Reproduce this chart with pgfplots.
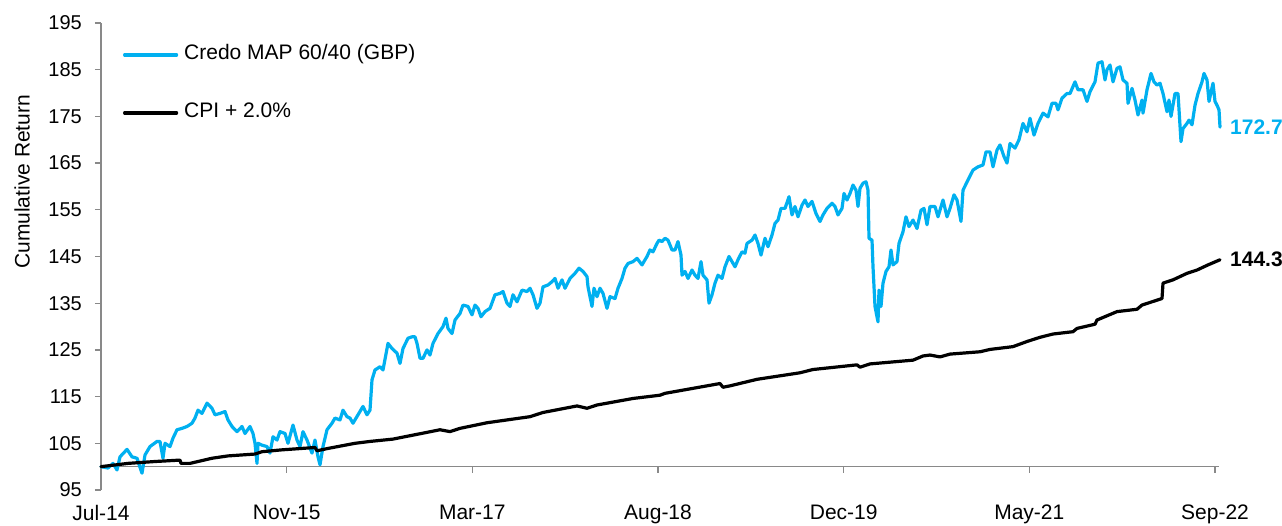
\documentclass[border=0pt]{standalone}
\usepackage{fontspec}
\setmainfont{Liberation Sans}
\usepackage{pgfplots}
\pgfplotsset{compat=1.18}
\usepackage{pgfplotstable}
\definecolor{credo}{RGB}{0,176,240}
\definecolor{axgray}{RGB}{137,137,137}

% x = position on the time axis (Jul-14 = 101, Sep-22 = 1215, equal spacing between labels)
\pgfplotstableread{
x y
101 100.0
108 99.7
113 100.7
117 99.3
120 102.1
127 103.7
132 102.1
137 101.8
142 98.6
145 102.5
150 104.3
157 105.4
160 105.4
163 101.8
165 105.0
170 104.3
173 106.1
177 107.9
182 108.2
187 108.6
192 109.3
195 110.4
198 112.1
202 111.4
207 113.6
212 112.5
215 111.1
220 111.4
225 111.8
228 110.0
232 108.6
237 107.5
242 108.6
245 107.1
250 108.6
253 107.1
255 105.0
257 100.7
258 105.0
262 104.6
267 104.3
270 102.9
273 106.4
277 105.7
280 107.5
285 107.1
288 105.0
293 108.9
297 105.7
300 104.3
303 107.5
307 105.7
312 102.9
315 105.7
318 102.1
320 100.4
323 104.3
327 107.9
332 109.3
335 110.4
340 110.0
343 112.1
347 110.7
350 110.4
353 109.3
358 111.1
363 112.9
367 111.1
370 112.1
372 118.6
375 120.7
380 121.4
383 120.7
388 126.4
392 125.3
397 124.3
400 122.1
403 125.3
408 127.5
412 127.8
415 127.8
417 126.4
420 123.2
423 123.2
427 125.0
430 123.9
433 126.4
438 128.5
443 130.0
446 131.8
448 129.6
452 128.5
455 131.4
460 132.8
463 134.6
468 134.3
472 132.5
475 134.6
478 133.9
481 132.1
485 133.2
490 133.9
495 136.8
500 137.1
503 137.5
507 135.0
510 134.3
513 136.8
517 135.3
522 137.8
527 137.5
530 138.2
533 136.8
537 133.9
540 135.0
543 138.5
548 138.9
552 139.6
555 140.3
558 138.2
562 140.0
565 138.2
570 140.3
575 141.4
579 142.5
583 141.8
587 140.7
588 138.5
592 134.3
594 138.2
597 136.4
600 138.2
603 137.1
607 133.9
610 136.4
615 136.0
618 138.2
622 140.3
625 142.5
628 143.5
633 143.9
637 144.6
642 143.2
647 145.0
650 146.4
653 146.0
657 147.8
659 148.5
662 148.2
665 148.9
668 148.5
672 146.4
675 146.4
678 148.2
681 145.3
682 141.0
685 141.8
688 140.3
692 142.1
695 141.0
698 140.3
701 143.9
703 141.0
707 140.0
709 135.0
712 136.8
715 139.3
718 141.0
722 140.3
725 142.8
729 145.0
732 143.9
735 142.8
738 144.3
742 146.0
745 145.7
747 147.8
752 148.5
755 149.6
758 147.8
761 145.3
765 148.9
768 147.1
772 149.6
775 152.1
778 152.8
781 155.3
785 155.3
789 157.8
792 153.9
795 155.7
798 153.5
802 156.0
805 157.1
808 155.7
812 156.8
816 154.2
820 152.5
823 153.9
827 155.3
832 156.4
835 155.7
838 153.9
842 155.3
844 158.5
847 157.1
850 158.5
853 160.3
856 159.2
858 155.7
860 159.6
863 160.7
866 161.0
868 159.2
869 148.9
872 148.5
873 142.8
875 134.3
877 132.1
878 131.0
879 137.8
881 134.3
883 139.3
886 141.8
889 142.8
891 146.4
893 143.2
897 143.9
899 147.8
903 150.3
906 153.5
909 151.4
913 152.8
917 151.0
921 154.9
924 155.3
927 151.8
930 155.7
935 155.7
938 153.5
943 157.1
947 153.5
950 155.3
954 158.2
957 157.1
961 152.5
963 159.2
968 161.4
973 163.5
978 164.2
983 164.6
986 167.4
990 167.4
993 164.2
997 167.8
1000 168.9
1004 166.4
1007 165.0
1010 169.2
1015 168.2
1019 170.0
1023 173.5
1027 171.7
1030 174.6
1034 171.0
1038 173.5
1043 175.7
1048 174.9
1052 177.8
1056 177.8
1058 176.4
1062 178.9
1067 179.9
1070 179.9
1075 182.4
1078 180.7
1083 180.7
1087 178.2
1090 180.3
1095 182.4
1098 186.4
1102 186.7
1105 182.8
1107 185.0
1110 186.0
1113 182.4
1117 185.3
1120 185.6
1123 182.8
1127 182.1
1128 177.8
1132 181.0
1135 178.5
1138 175.3
1142 178.5
1143 175.7
1147 180.7
1151 184.2
1154 182.4
1157 181.7
1160 182.1
1163 179.9
1167 176.0
1169 178.5
1171 175.0
1175 179.9
1178 179.9
1181 169.6
1183 172.4
1187 173.5
1189 174.2
1192 173.2
1195 177.4
1198 179.9
1202 182.4
1204 184.2
1207 182.8
1209 178.2
1213 182.1
1215 178.2
1217 177.4
1219 176.4
1220 172.7
}\credotable

\pgfplotstableread{
x y
101 100.0
128 100.7
155 101.1
180 101.4
181 100.7
190 100.7
212 101.8
228 102.3
255 102.7
262 103.2
282 103.6
315 104.1
317 103.4
328 103.9
355 105.0
370 105.4
393 105.9
440 107.9
450 107.5
460 108.2
487 109.4
530 110.7
543 111.6
577 113.0
587 112.5
597 113.2
633 114.6
660 115.3
665 115.7
720 117.8
723 117.0
730 117.3
757 118.7
800 120.1
813 120.8
857 121.8
860 121.3
870 122.0
913 122.8
923 123.7
930 123.9
940 123.5
950 124.1
980 124.6
990 125.1
1013 125.7
1027 126.8
1040 127.7
1053 128.4
1073 128.9
1077 129.6
1095 130.5
1097 131.4
1117 133.2
1137 133.7
1142 134.6
1152 135.3
1162 136.0
1163 139.3
1173 140.0
1187 141.4
1197 142.1
1208 143.2
1220 144.3
}\cpitable

\begin{document}
\begin{tikzpicture}
\useasboundingbox (-101pt,-35pt) rectangle (1181pt,490pt);
\begin{axis}[
  at={(0pt,0pt)}, anchor=south west,
  scale only axis, width=1118pt, height=467pt,
  xmin=101, xmax=1219, ymin=95, ymax=195,
  clip=false,
  axis y line*=left, axis x line*=bottom,
  x axis line style={draw=none},
  y axis line style={draw=axgray, line width=1.3pt, -},
  ytick={95,105,...,195},
  xtick={101,286.7,472.3,658,843.7,1029.3,1215},
  xticklabels={Jul-14,Nov-15,Mar-17,Aug-18,Dec-19,May-21,Sep-22},
  xtick style={draw=none},
  ytick style={draw=axgray, line width=1.3pt},
  tick align=outside, major tick length=6pt,
  /pgf/number format/assume math mode=true,
  yticklabel style={font=\fontsize{20}{24}\selectfont, anchor=east, inner sep=0pt, xshift=-13pt},
  xticklabel style={font=\fontsize{21}{25}\selectfont, anchor=north, inner sep=0pt, yshift=-9pt},
  legend style={draw=none, fill=none, inner sep=0pt, outer sep=0pt,
    at={(axis cs:123,190.3)}, anchor=north west, row sep=38pt,
    font=\fontsize{21}{25}\selectfont,
    nodes={inner sep=0pt, text height=15pt, text depth=5pt},
    /tikz/every odd column/.append style={column sep=6pt}},
  legend cell align=left,
  legend image code/.code={\draw[#1] (0pt,0pt) -- (52pt,0pt);},
]
\draw[axgray, line width=1.3pt] (axis cs:101,100) -- (axis cs:1219,100);
\pgfplotsinvokeforeach{286.7,472.3,658,843.7,1029.3,1215}{
  \draw[axgray, line width=1.3pt] (axis cs:#1,100) -- ++(0pt,-6pt);
}
\addplot[credo, line width=3.2pt, line join=round, line cap=round] table[x=x,y=y] {\credotable};
\addlegendentry{Credo MAP 60/40 (GBP)}
\addplot[black, line width=3.2pt, line join=round, line cap=round] table[x=x,y=y] {\cpitable};
\addlegendentry{CPI + 2.0\%}
\node[anchor=west, inner sep=0pt, text=credo, font=\fontsize{21}{25}\selectfont\bfseries, xshift=10pt] at (axis cs:1220,172.7) {172.7};
\node[anchor=west, inner sep=0pt, text=black, font=\fontsize{21}{25}\selectfont\bfseries, xshift=10pt] at (axis cs:1220,144.3) {144.3};
\coordinate (ylab) at (rel axis cs:0,0.66);
\end{axis}
\node[rotate=90, font=\fontsize{21}{25}\selectfont, inner sep=0pt] at ([xshift=-79pt]ylab) {Cumulative Return};
\end{tikzpicture}
\end{document}
